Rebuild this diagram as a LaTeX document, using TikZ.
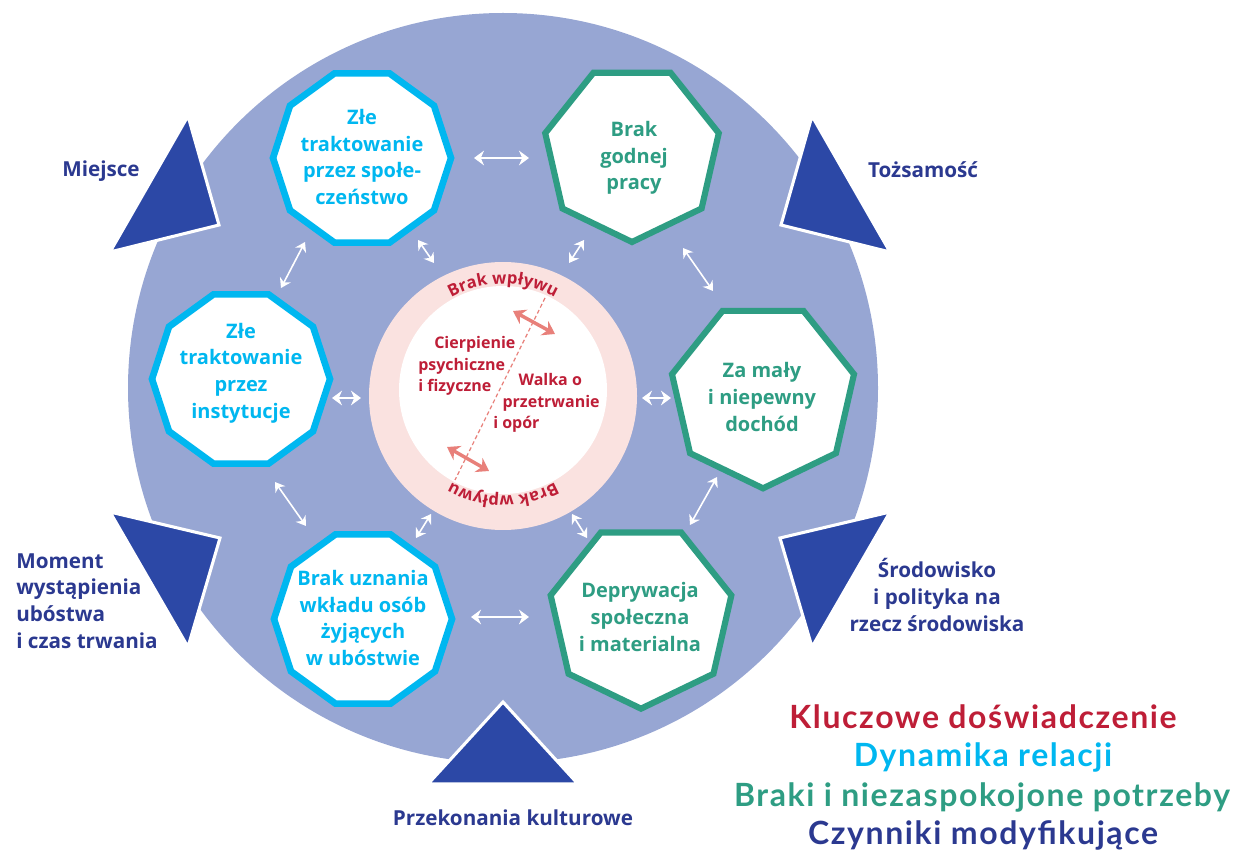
\documentclass[tikz,border=0pt]{standalone}
\usepackage{fontspec}
\setmainfont{Open Sans}
\newfontfamily\legendfont[LetterSpace=5]{Lato}
\usetikzlibrary{shapes.geometric,arrows.meta,decorations.text,calc}
\definecolor{peri}{RGB}{151,166,211}
\definecolor{tric}{RGB}{44,72,166}
\definecolor{navy}{RGB}{43,57,144}
\definecolor{cyanc}{RGB}{0,183,240}
\definecolor{greenc}{RGB}{46,157,131}
\definecolor{redc}{RGB}{190,30,55}
\definecolor{pinkc}{RGB}{250,226,224}
\definecolor{salmon}{RGB}{232,128,122}
\tikzset{
  deca/.style={regular polygon, regular polygon sides=10, minimum size=133.5pt, inner sep=0pt, draw=cyanc, line width=5pt, fill=white},
  hepta/.style={regular polygon, regular polygon sides=7, shape border rotate=180, inner sep=0pt, draw=greenc, line width=4.6pt, fill=white},
  boxtext/.style={font=\bfseries\fontsize{15}{20}\selectfont, align=center, inner sep=0pt},
  labeltext/.style={font=\bfseries\fontsize{15.5}{20}\selectfont, text=navy, inner sep=0pt},
  coretext/.style={font=\bfseries\fontsize{12}{16}\selectfont, text=redc, inner sep=0pt, align=left},
  legendtext/.style={font=\legendfont\bfseries\fontsize{24}{28}\selectfont, inner sep=0pt},
  trishape/.style={fill=tric, draw=white, line width=2.3pt, line join=miter},
  warrow/.style={draw=white, line width=1.2pt, {Stealth[length=7pt,width=9pt]}-{Stealth[length=7pt,width=9pt]}},
  wharrow/.style={draw=white, line width=1.7pt, {Stealth[length=7.5pt,width=11pt]}-{Stealth[length=7.5pt,width=11pt]}},
  parrow/.style={draw=salmon, line width=2.6pt, {Stealth[length=9pt,width=12pt]}-{Stealth[length=9pt,width=12pt]}},
  ringtext/.style={decorate, decoration={text along path, text align=center, text color=redc,
      text={|\bfseries\fontsize{12.5}{14}\selectfont|Brak wpływu}}},
}
\begin{document}
\begin{tikzpicture}[x=0.75pt,y=-0.75pt]
\useasboundingbox (0,0) rectangle (1238,855);
% background disc
\node[circle, fill=peri, minimum size=562.5pt, inner sep=0pt] (bg) at (503,388) {};
% triangles (modifying factors)
\draw[trishape] (188,116) -- (110,252) -- (219,225) -- cycle;
\draw[trishape] (812,116) -- (890,252) -- (781,225) -- cycle;
\draw[trishape] (110,512) -- (220,538) -- (188,647) -- cycle;
\draw[trishape] (890,512) -- (780,538) -- (812,647) -- cycle;
\draw[trishape] (503,702) -- (578,784) -- (428,784) -- cycle;
% polygons
\node[deca] (c1) at (362,158) {};
\node[deca] (c2) at (241,379) {};
\node[deca] (c3) at (363,619) {};
\node[hepta, minimum size=133.5pt] (g1) at (632,153) {};
\node[hepta, minimum size=140pt] (g2) at (763,395) {};
\node[hepta, minimum size=139pt] (g3) at (641,616) {};
% centre rings
\node[circle, fill=pinkc, minimum size=201pt, inner sep=0pt] (ring) at (503,396) {};
\node[circle, fill=white, minimum size=156pt, inner sep=0pt] (core) at (503,390) {};
\path[ringtext] ($(core)+(210:106)$) arc[start angle=210, end angle=330, radius=106];
\path[ringtext] ($(core)+(30:106)$) arc[start angle=30, end angle=150, radius=106];
% centre divider and arrows
\coordinate (dtop) at (545,298);
\coordinate (dbot) at (455,480);
\draw[salmon, line width=0.9pt, dash pattern=on 3pt off 2pt] (dtop) -- (dbot);
\coordinate (p1a) at (513,311); \coordinate (p1b) at (555,334);
\coordinate (p2a) at (447,447); \coordinate (p2b) at (489,471);
\draw[parrow] (p1a) -- (p1b);
\draw[parrow] (p2a) -- (p2b);
% white connectors
\coordinate (a1s) at (474,158); \coordinate (a1e) at (529,158);
\coordinate (a2s) at (305,242); \coordinate (a2e) at (281,288);
\coordinate (a3s) at (418,240); \coordinate (a3e) at (434,263);
\coordinate (a4s) at (584,240); \coordinate (a4e) at (569,263);
\coordinate (a5s) at (683,248); \coordinate (a5e) at (713,291);
\coordinate (a6s) at (332,398); \coordinate (a6e) at (361,398);
\coordinate (a7s) at (642,398); \coordinate (a7e) at (671,398);
\coordinate (a8s) at (275,482); \coordinate (a8e) at (306,526);
\coordinate (a9s) at (717,477); \coordinate (a9e) at (690,525);
\coordinate (a10s) at (431,514); \coordinate (a10e) at (416,538);
\coordinate (a11s) at (572,514); \coordinate (a11e) at (587,538);
\coordinate (a12s) at (471,617); \coordinate (a12e) at (529,617);
\draw[wharrow] (a1s) -- (a1e);
\draw[warrow] (a2s) -- (a2e);
\draw[warrow] (a3s) -- (a3e);
\draw[warrow] (a4s) -- (a4e);
\draw[warrow] (a5s) -- (a5e);
\draw[wharrow] (a6s) -- (a6e);
\draw[wharrow] (a7s) -- (a7e);
\draw[warrow] (a8s) -- (a8e);
\draw[warrow] (a9s) -- (a9e);
\draw[warrow] (a10s) -- (a10e);
\draw[warrow] (a11s) -- (a11e);
\draw[wharrow] (a12s) -- (a12e);
% polygon texts
\node[boxtext, text=cyanc] (c1t) at (362,157) {Złe\\traktowanie\\przez społe-\\czeństwo};
\node[boxtext, text=cyanc] (c2t) at (241,373) {Złe\\traktowanie\\przez\\instytucje};
\node[boxtext, text=cyanc] (c3t) at (363,618) {Brak uznania\\wkładu osób\\żyjących\\w ubóstwie};
\node[boxtext, text=greenc] (g1t) at (634,158) {Brak\\godnej\\pracy};
\node[boxtext, text=greenc] (g2t) at (762,397) {Za mały\\i niepewny\\dochód};
\node[boxtext, text=greenc] (g3t) at (640,617) {Deprywacja\\społeczna\\i materialna};
% centre texts
\node[coretext, anchor=west] (suffer) at (418,366) {\hspace{12pt}Cierpienie\\psychiczne\\i fizyczne};
\node[coretext, anchor=west] (fight) at (493,403) {\hspace{19pt}Walka o\\\hspace{7pt}przetrwanie\\i opór};
% factor labels
\node[labeltext] (miejsce) at (101,171) {Miejsce};
\node[labeltext] (tozsamosc) at (923,170) {Tożsamość};
\node[labeltext, align=left, anchor=west] (moment) at (16,601) {Moment\\wystąpienia\\ubóstwa\\i czas trwania};
\node[labeltext, align=center] (srodowisko) at (937,595) {Środowisko\\i polityka na\\rzecz środowiska};
\node[labeltext] (przekonania) at (513,818) {Przekonania kulturowe};
% legend
\node[legendtext, text=redc] (leg1) at (983,717) {Kluczowe doświadczenie};
\node[legendtext, text=cyanc] (leg2) at (983,757) {Dynamika relacji};
\node[legendtext, text=greenc] (leg3) at (982,797) {Braki i niezaspokojone potrzeby};
\node[legendtext, text=navy] (leg4) at (983,835) {Czynniki modyfikujące};
\end{tikzpicture}
\end{document}
